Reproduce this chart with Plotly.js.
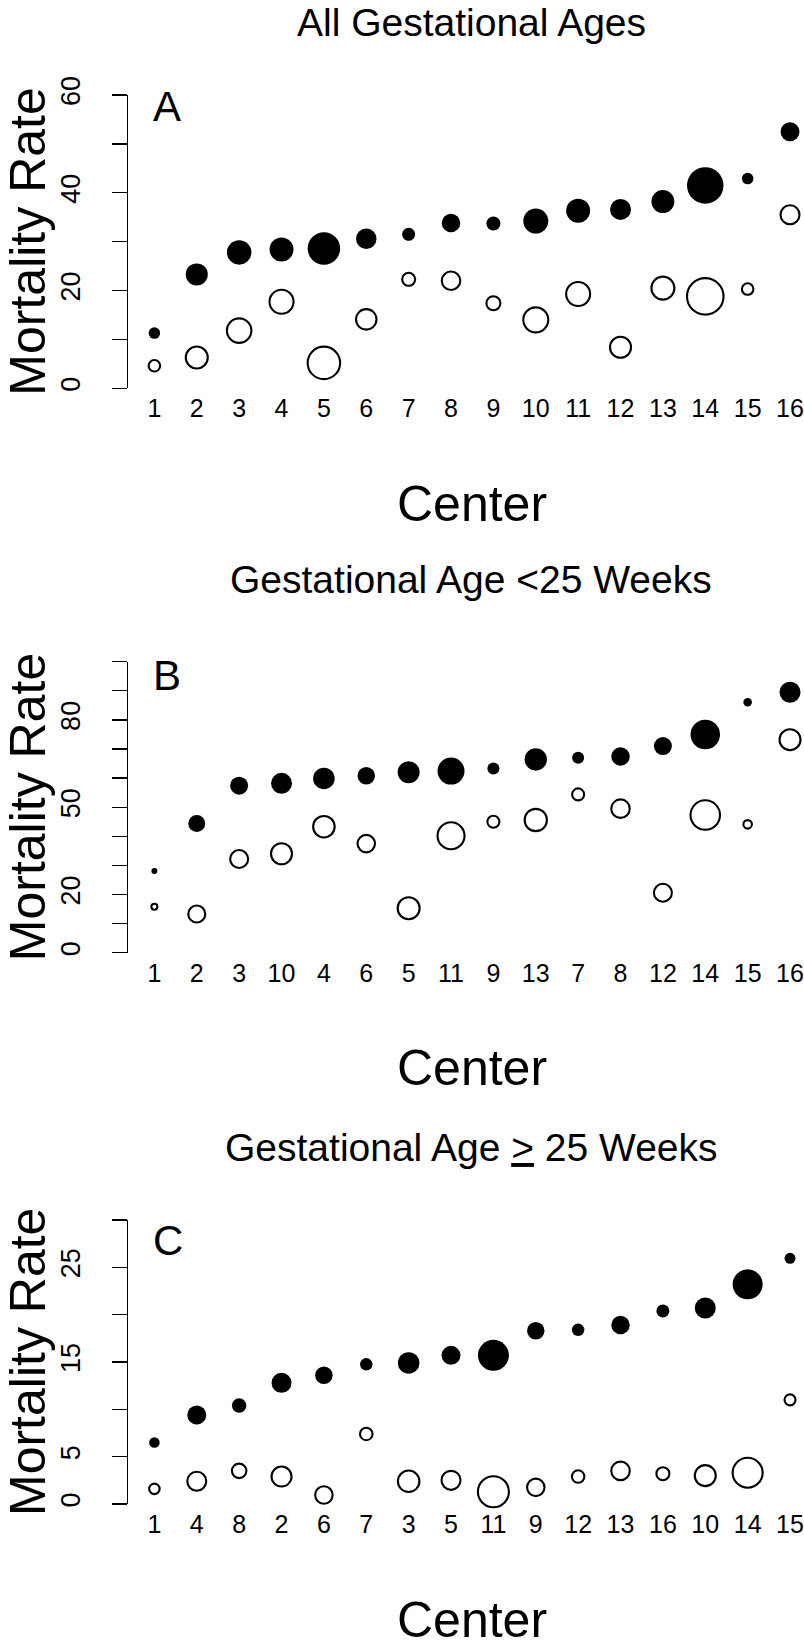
<!DOCTYPE html>
<html><head><meta charset="utf-8">
<script src="https://cdn.plot.ly/plotly-3.0.1.min.js"></script>
<style>html,body{margin:0;padding:0;background:#fff}</style>
</head><body><div id="chart" style="width:804px;height:1648px"></div>
<script>
// ---- Data ----
const titleA = 'All Gestational Ages';
const titleB = 'Gestational Age &lt;25 Weeks';
const titleC = 'Gestational Age <u>&gt;</u> 25 Weeks';

const centersA = ['1','2','3','4','5','6','7','8','9','10','11','12','13','14','15','16'];
const observedA = [11.3,23.3,27.8,28.4,28.6,30.6,31.5,33.8,33.7,34.2,36.3,36.6,38.2,41.5,42.9,52.5];
const adjustedA = [4.6,6.3,11.8,17.7,5.2,14.1,22.3,22.0,17.4,14.0,19.3,8.4,20.5,18.8,20.3,35.5];
const weightA = [11.5,22,24.5,24,32.5,20.5,13,18.5,14,25,24,21,23,36.5,11.5,19];
const yTicksA = [0,10,20,30,40,50,60];
const yLabelsA = ['0','','20','','40','','60'];

const centersB = ['1','2','3','10','4','6','5','11','9','13','7','8','12','14','15','16'];
const observedB = [28.1,44.4,57.4,58.2,59.9,60.8,62.0,62.4,63.3,66.4,67.0,67.4,71.0,75.0,86.1,89.5];
const adjustedB = [15.8,13.3,32.2,34.0,43.3,37.5,15.3,40.2,45.0,45.6,54.4,49.5,20.6,47.3,44.1,73.2];
const weightB = [6,17,18,21,21.5,17.5,22,27,12,22.3,12,18.5,18,29.5,8.5,21];
const yTicksB = [0,10,20,30,40,50,60,70,80,90,100];
const yLabelsB = ['0','','20','','','50','','','80','',''];

const centersC = ['1','4','8','2','6','7','3','5','11','9','12','13','16','10','14','15'];
const observedC = [6.5,9.4,10.4,12.8,13.6,14.75,14.9,15.7,15.7,18.3,18.4,18.9,20.4,20.7,23.2,25.95];
const adjustedC = [1.6,2.4,3.5,2.9,0.95,7.4,2.4,2.5,1.3,1.76,2.9,3.5,3.2,3.0,3.3,11.0];
const weightC = [10.5,19,14.5,20,17.5,12.5,21.5,19,31,17.5,12.5,18.5,13,21,30,11];
const yTicksC = [0,5,10,15,20,25,30];
const yLabelsC = ['0','5','','15','','25',''];

// ---- Layout helpers ----
const W = 804, H = 1648;
const FONT = 'Liberation Sans, Arial, Helvetica, sans-serif';
const panels = [
  {c:centersA, f:observedA, o:adjustedA, s:weightA, tv:yTicksA, tt:yLabelsA, top:95, bot:388.3, title:titleA, titleY:22, letter:'A', letterY:106.5, centerY:503.5},
  {c:centersB, f:observedB, o:adjustedB, s:weightB, tv:yTicksB, tt:yLabelsB, top:661.7, bot:952.7, title:titleB, titleY:580, letter:'B', letterY:675.5, centerY:1068},
  {c:centersC, f:observedC, o:adjustedC, s:weightC, tv:yTicksC, tt:yLabelsC, top:1220, bot:1504, title:titleC, titleY:1147, letter:'C', letterY:1240, centerY:1620}
];
const px2x = p => p / W;
const px2y = p => 1 - p / H;

const traces = [];
const layout = {
  width: W, height: H,
  margin: {l:0, r:0, t:0, b:0, pad:0},
  paper_bgcolor: '#fff', plot_bgcolor: '#fff',
  showlegend: false,
  font: {family: FONT, color: '#000'},
  annotations: []
};

panels.forEach((p, i) => {
  const sfx = i === 0 ? '' : String(i + 1);
  const xa = 'x' + sfx, ya = 'y' + sfx;
  traces.push({
    type: 'scatter', mode: 'markers', x: p.c, y: p.f, xaxis: xa, yaxis: ya,
    cliponaxis: false, hoverinfo: 'skip',
    marker: {symbol: 'circle', color: '#000', opacity: 1, size: p.s, line: {width: 0}}
  });
  traces.push({
    type: 'scatter', mode: 'markers', x: p.c, y: p.o, xaxis: xa, yaxis: ya,
    cliponaxis: false, hoverinfo: 'skip',
    marker: {symbol: 'circle', color: '#fff', opacity: 1, size: p.s, line: {width: 2.1, color: '#000'}}
  });
  layout['xaxis' + sfx] = {
    type: 'category', categoryorder: 'array', categoryarray: p.c,
    domain: [px2x(128), 1], range: [-0.623, 15.33], anchor: ya,
    showline: false, showgrid: false, zeroline: false, ticks: '',
    tickfont: {size: 25, family: FONT, color: '#000'}, ticklabelstandoff: 3,
    fixedrange: true
  };
  layout['yaxis' + sfx] = {
    domain: [px2y(p.bot), px2y(p.top)], range: [p.tv[0], p.tv[p.tv.length - 1]], anchor: xa,
    tickmode: 'array', tickvals: p.tv, ticktext: p.tt,
    ticks: 'outside', ticklen: 15, tickwidth: 1.3, tickcolor: '#000',
    showline: true, linecolor: '#000', linewidth: 1.3,
    showgrid: false, zeroline: false, tickangle: -90,
    tickfont: {size: 27, family: FONT, color: '#000'}, ticklabelstandoff: 21,
    fixedrange: true
  };
  layout.annotations.push(
    {text: p.title, xref: 'paper', yref: 'paper', x: px2x(471), y: px2y(p.titleY),
     xanchor: 'center', yanchor: 'middle', showarrow: false, font: {size: 39, family: FONT, color: '#000'}},
    {text: p.letter, xref: 'paper', yref: 'paper', x: px2x(151), y: px2y(p.letterY),
     xanchor: 'left', yanchor: 'middle', showarrow: false, font: {size: 42, family: FONT, color: '#000'}},
    {text: 'Center', xref: 'paper', yref: 'paper', x: px2x(472), y: px2y(p.centerY),
     xanchor: 'center', yanchor: 'middle', showarrow: false, font: {size: 50, family: FONT, color: '#000'}},
    {text: 'Mortality Rate', xref: 'paper', yref: 'paper', x: px2x(28), y: px2y((p.top + p.bot) / 2),
     xanchor: 'center', yanchor: 'middle', textangle: -90, showarrow: false, font: {size: 50, family: FONT, color: '#000'}}
  );
});

Plotly.newPlot('chart', traces, layout, {displayModeBar: false, staticPlot: true});
</script>
</body></html>
